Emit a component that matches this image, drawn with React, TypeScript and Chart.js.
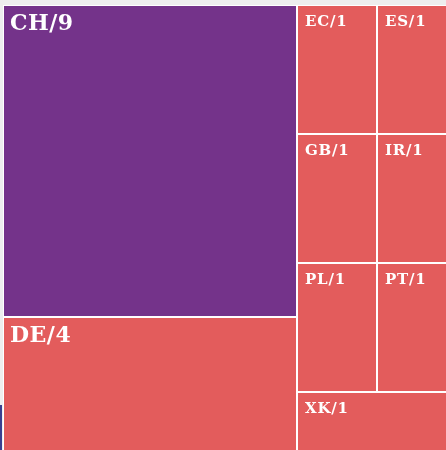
import React, { useEffect, useRef } from "react";
import { Chart, registerables } from "chart.js";

Chart.register(...registerables);

const labels: string[] = ["CH", "DE", "EC", "ES", "GB", "IR", "PL", "PT", "XK"];
const values: number[] = [9, 4, 1, 1, 1, 1, 1, 1, 1];

const PURPLE = "#74338a";
const RED = "#e35c5c";
const colorFor = (label: string) => (label === "CH" ? PURPLE : RED);

type R = { x: number; y: number; w: number; h: number };

function worst(row: number[], side: number): number {
  const s = row.reduce((a, b) => a + b, 0);
  const mx = Math.max(...row);
  const mn = Math.min(...row);
  return Math.max((side * side * mx) / (s * s), (s * s) / (side * side * mn));
}

function squarify(vals: number[], x: number, y: number, w: number, h: number): R[] {
  const total = vals.reduce((a, b) => a + b, 0);
  const areas = vals.map((v) => (v / total) * w * h);
  const out: R[] = [];
  let i = 0;
  while (i < areas.length) {
    const side = Math.min(w, h);
    let row = [areas[i]];
    let j = i + 1;
    while (j < areas.length) {
      const cand = [...row, areas[j]];
      if (worst(cand, side) <= worst(row, side)) {
        row = cand;
        j++;
      } else break;
    }
    const s = row.reduce((a, b) => a + b, 0);
    if (w >= h) {
      const cw = s / h;
      let yy = y;
      for (const a of row) {
        const rh = a / cw;
        out.push({ x, y: yy, w: cw, h: rh });
        yy += rh;
      }
      x += cw;
      w -= cw;
    } else {
      const rh = s / w;
      let xx = x;
      for (const a of row) {
        const rw = a / rh;
        out.push({ x: xx, y, w: rw, h: rh });
        xx += rw;
      }
      y += rh;
      h -= rh;
    }
    i = j;
  }
  return out;
}

const treemapPlugin = {
  id: "treemapDraw",
  afterDatasetsDraw(chart: any) {
    const { ctx, chartArea } = chart;
    const xs = chart.scales.x;
    const ys = chart.scales.y;
    const W = chartArea.right - chartArea.left;
    const H = chartArea.bottom - chartArea.top;
    const rects = squarify(values, 0, 0, W, H);
    ctx.save();
    rects.forEach((r, k) => {
      const x0 = Math.round(xs.getPixelForValue(r.x / W));
      const x1 = Math.round(xs.getPixelForValue((r.x + r.w) / W));
      const y0 = Math.round(ys.getPixelForValue(r.y / H));
      const y1 = Math.round(ys.getPixelForValue((r.y + r.h) / H));
      ctx.fillStyle = colorFor(labels[k]);
      ctx.fillRect(x0, y0, x1 - x0, y1 - y0);
      ctx.strokeStyle = "#ffffff";
      ctx.lineWidth = 1;
      ctx.strokeRect(x0 + 0.5, y0 + 0.5, x1 - x0 - 1, y1 - y0 - 1);
    });
    rects.forEach((r, k) => {
      const x0 = Math.round(xs.getPixelForValue(r.x / W));
      const y0 = Math.round(ys.getPixelForValue(r.y / H));
      const big = r.w > 200;
      const size = big ? 22 : 15;
      ctx.font = `bold ${size}px "DejaVu Serif"`;
      (ctx as any).letterSpacing = big ? "0.5px" : "0.8px";
      ctx.fillStyle = "#ffffff";
      ctx.textBaseline = "alphabetic";
      ctx.textAlign = "left";
      ctx.fillText(`${labels[k]}/${values[k]}`, x0 + (big ? 7 : 8), y0 + (big ? 25 : 21));
    });
    ctx.restore();
  },
};

export default function App() {
  const ref = useRef<HTMLCanvasElement | null>(null);
  useEffect(() => {
    document.body.style.background = "#eeeeee";
    const chart = new Chart(ref.current as HTMLCanvasElement, {
      type: "scatter",
      data: { datasets: [{ data: [] }] },
      options: {
        animation: false,
        responsive: false,
        layout: { padding: 0 },
        scales: {
          x: { type: "linear", min: 0, max: 1, display: false },
          y: { type: "linear", min: 0, max: 1, reverse: true, display: false },
        },
        plugins: { legend: { display: false }, tooltip: { enabled: false } },
      },
      plugins: [treemapPlugin],
    });
    return () => chart.destroy();
  }, []);
  return (
    <div>
      <div style={{ position: "absolute", left: 3, top: 5, width: 453, height: 451 }}>
        <canvas ref={ref} width={453} height={451} style={{ display: "block" }} />
      </div>
      <div style={{ position: "absolute", left: 0, top: 405, width: 2, height: 50, background: "#3b3f8f" }} />
    </div>
  );
}
